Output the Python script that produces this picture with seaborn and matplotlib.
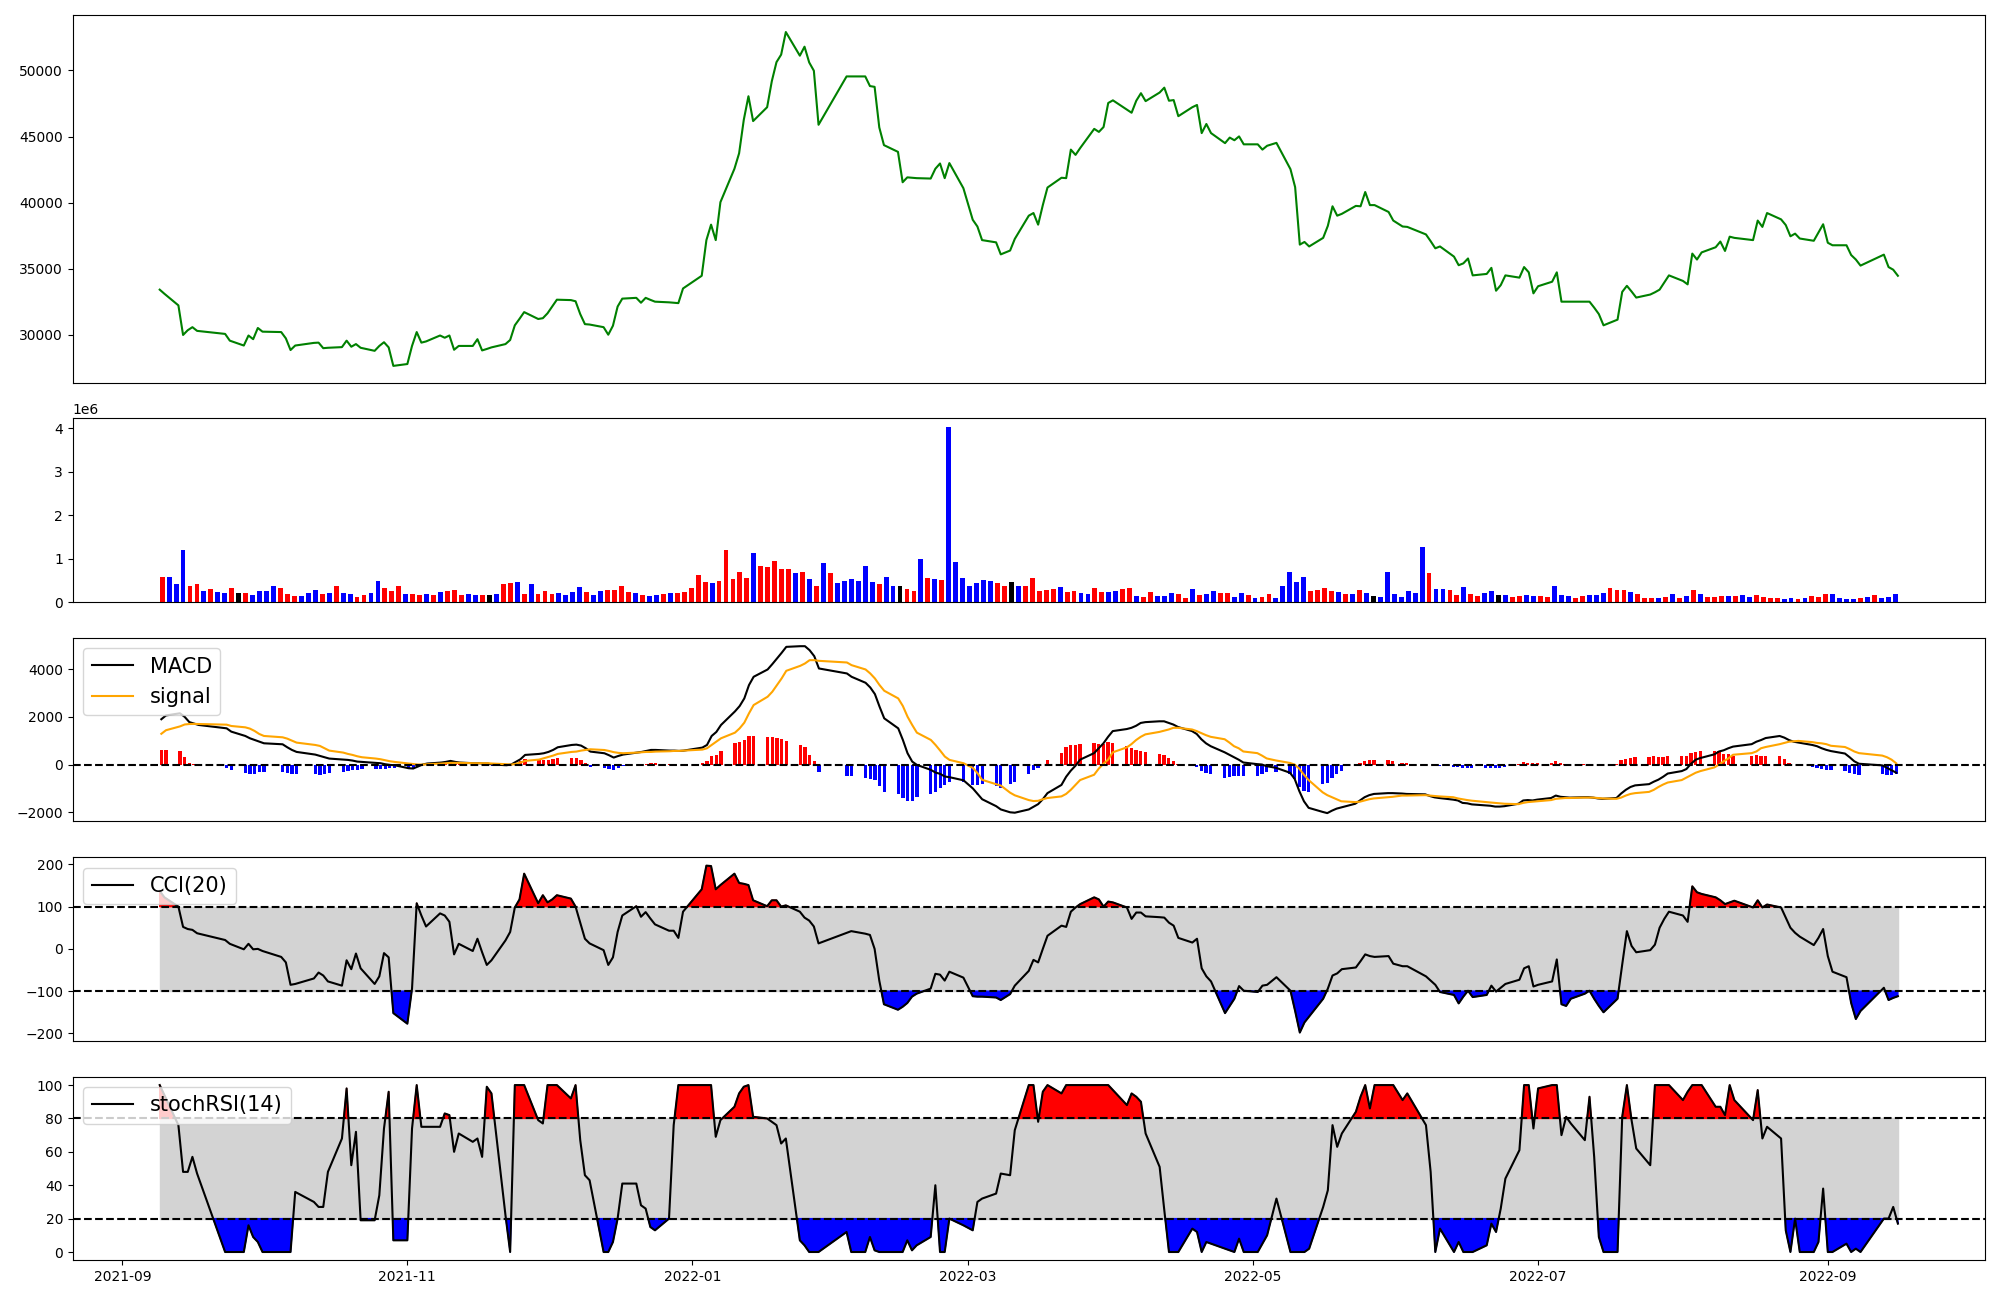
import numpy as np
import pandas as pd
import matplotlib
matplotlib.use("Agg")
import matplotlib.pyplot as plt
import seaborn as sns

# trading calendar (KRX holidays removed)
holidays = ["2021-09-20", "2021-09-21", "2021-09-22", "2021-10-04", "2021-10-11",
            "2021-12-31", "2022-01-31", "2022-02-01", "2022-02-02", "2022-03-01",
            "2022-03-09", "2022-05-05", "2022-06-01", "2022-06-06", "2022-08-15",
            "2022-09-09", "2022-09-12"]
dates = pd.bdate_range("2021-09-09", "2022-09-16")
dates = dates[~dates.isin(pd.to_datetime(holidays))]

close = [33410, 33100, 32220, 29980, 30340, 30570, 30290, 30060, 29550, 29180,
         29940, 29660, 30510, 30230, 30200, 29720, 28840, 29180, 29380, 29400,
         28980, 29010, 29060, 29550, 29090, 29290, 29010, 28780, 29150, 29430,
         29040, 27640, 27780, 29150, 30200, 29400, 29490, 29940, 29770, 29940,
         28860, 29150, 29150, 29660, 28810, 28920, 29040, 29290, 29600, 30710,
         31200, 31710, 31190, 31250, 31620, 32130, 32650, 32620, 32530, 31560,
         30800, 30770, 30570, 30000, 30680, 32130, 32730, 32790, 32420, 32790,
         32640, 32500, 32450, 32420, 32390, 33500, 34460, 37160, 38330, 37160,
         40030, 42560, 43730, 46260, 48050, 46170, 47220, 49190, 50630, 51200,
         52910, 51120, 51800, 50610, 49980, 45890, 49550, 49550, 49550, 48820,
         48760, 45690, 44350, 43840, 41540, 41910, 41880, 41850, 41820, 42560,
         42960, 41850, 42990, 41090, 38700, 38190, 37160, 36990, 36080, 36370,
         37250, 39010, 39210, 38330, 39810, 41140, 41880, 41850, 44010, 43610,
         44130, 45580, 45350, 45720, 47540, 47740, 47030, 46800, 47710, 48280,
         47680, 48330, 48700, 47710, 47760, 46540, 47220, 47390, 45260, 45950,
         45260, 44500, 44920, 44720, 45010, 44410, 44410, 44010, 44300, 44520,
         42530, 41170, 36820, 37020, 36680, 37330, 38240, 39720, 39010, 39150,
         39750, 39720, 40800, 39810, 39810, 39290, 38640, 38190, 38160, 37590,
         37080, 36540, 36680, 35910, 35260, 35400, 35770, 34490, 34600, 35060,
         33330, 33750, 34490, 34320, 35120, 34720, 33130, 33670, 34010, 34720,
         32500, 32500, 32500, 32500, 32500, 32050, 31560, 30710, 31140, 33240,
         33700, 33270, 32810, 33040, 33210, 33410, 33950, 34490, 34070, 33810,
         36140, 35690, 36230, 36620, 37050, 36340, 37420, 37330, 37160, 38640,
         38160, 39210, 38730, 38300, 37450, 37650, 37280, 37110, 37730, 38360,
         36960, 36770, 36770, 36030, 35690, 35230, 36060, 35120, 34920, 34460]

# volume in millions of shares
volume_m = [0.57, 0.57, 0.41, 1.20, 0.37, 0.41, 0.25, 0.30, 0.23, 0.20,
            0.32, 0.20, 0.20, 0.16, 0.25, 0.25, 0.38, 0.32, 0.18, 0.13,
            0.13, 0.20, 0.27, 0.18, 0.20, 0.37, 0.20, 0.18, 0.11, 0.16,
            0.20, 0.48, 0.32, 0.25, 0.37, 0.18, 0.18, 0.16, 0.18, 0.16,
            0.23, 0.25, 0.27, 0.16, 0.18, 0.16, 0.16, 0.16, 0.18, 0.41,
            0.43, 0.45, 0.18, 0.41, 0.18, 0.25, 0.18, 0.20, 0.16, 0.23,
            0.34, 0.23, 0.16, 0.25, 0.27, 0.27, 0.38, 0.23, 0.20, 0.16,
            0.13, 0.16, 0.18, 0.20, 0.20, 0.23, 0.32, 0.62, 0.45, 0.43,
            0.48, 1.20, 0.52, 0.69, 0.55, 1.13, 0.84, 0.81, 0.95, 0.77,
            0.75, 0.66, 0.70, 0.52, 0.38, 0.91, 0.68, 0.43, 0.48, 0.52,
            0.48, 0.84, 0.45, 0.41, 0.57, 0.38, 0.37, 0.30, 0.25, 0.99,
            0.55, 0.52, 0.50, 4.03, 0.93, 0.55, 0.38, 0.43, 0.50, 0.48,
            0.43, 0.38, 0.45, 0.38, 0.37, 0.55, 0.25, 0.27, 0.30, 0.34,
            0.23, 0.25, 0.20, 0.18, 0.32, 0.23, 0.23, 0.25, 0.30, 0.32,
            0.13, 0.11, 0.23, 0.13, 0.13, 0.20, 0.18, 0.09, 0.30, 0.16,
            0.18, 0.25, 0.20, 0.20, 0.11, 0.20, 0.16, 0.09, 0.11, 0.18,
            0.09, 0.38, 0.69, 0.45, 0.57, 0.25, 0.27, 0.32, 0.25, 0.23,
            0.18, 0.18, 0.27, 0.20, 0.13, 0.11, 0.69, 0.18, 0.11, 0.25,
            0.20, 1.26, 0.66, 0.30, 0.30, 0.27, 0.16, 0.34, 0.18, 0.13,
            0.20, 0.25, 0.16, 0.16, 0.11, 0.13, 0.16, 0.13, 0.13, 0.11,
            0.37, 0.16, 0.13, 0.09, 0.13, 0.16, 0.16, 0.20, 0.32, 0.27,
            0.27, 0.23, 0.18, 0.09, 0.09, 0.09, 0.11, 0.18, 0.09, 0.13,
            0.27, 0.18, 0.11, 0.11, 0.13, 0.13, 0.13, 0.16, 0.11, 0.16,
            0.11, 0.09, 0.09, 0.06, 0.09, 0.06, 0.09, 0.13, 0.11, 0.18,
            0.18, 0.09, 0.06, 0.06, 0.09, 0.11, 0.16, 0.09, 0.11, 0.18]

# candle direction per day: u = up, d = down, n = unchanged
candle = "".join([
    "uddduududd", "unudddduuu", "dddududduu", "dduuuduudu", "duuuddundu",
    "ududuuuddd", "dudduuuudu", "dduduuuuud", "uuuuuduuuu", "ududududdd",
    "ddduddnuud", "ududdddddd", "uunduuuuud", "uudduudduu", "duuddduudu",
    "dduudduduu", "ddddduuuud", "ududnddddd", "ddudduuduu", "ddnduudduu",
    "ddduuddduu", "uduuududud", "uduuududdu", "uuudduduuu", "ddddududdd",
])

macd = [1900, 2060, 2150, 2000, 1780, 1720, 1660, 1519, 1380, 1199,
        1101, 1032, 962, 892, 850, 725, 613, 530, 418, 362,
        307, 251, 209, 195, 167, 125, 112, 70, 56, 14,
        -14, -28, -153, -167, -84, 0, 42, 84, 112, 153,
        112, 84, 56, 56, 42, 42, 0, -28, 0, 112,
        223, 404, 446, 474, 530, 613, 725, 822, 836, 795,
        683, 544, 474, 390, 293, 362, 418, 502, 530, 572,
        613, 613, 585, 585, 572, 585, 711, 822, 1199, 1366,
        1659, 2230, 2453, 2774, 3332, 3680, 3987, 4210, 4447, 4684,
        4935, 4963, 4963, 4795, 4544, 4029, 3820, 3680, 3429, 3234,
        2955, 2426, 1938, 1519, 1032, 474, 125, -14, -223, -335,
        -390, -502, -530, -660, -1000, -1230, -1454, -1745, -1882, -2002,
        -2019, -1882, -1770, -1660, -1454, -1198, -855, -513, -257, -51,
        205, 479, 684, 890, 1163, 1403, 1489, 1540, 1625, 1745,
        1779, 1814, 1814, 1745, 1677, 1574, 1403, 1283, 1061, 890,
        770, 513, 411, 308, 205, 86, 17, 0, -68, -137,
        -342, -599, -1112, -1540, -1814, -1985, -2036, -1933, -1848, -1797,
        -1643, -1506, -1369, -1283, -1232, -1198, -1198, -1215, -1232, -1249,
        -1320, -1375, -1403, -1471, -1506, -1608, -1625, -1670, -1711, -1728,
        -1762, -1762, -1745, -1643, -1506, -1489, -1506, -1471, -1403, -1300,
        -1352, -1369, -1386, -1369, -1369, -1386, -1420, -1437, -1403, -1215,
        -1061, -941, -873, -821, -719, -633, -513, -376, -274, -188,
        34, 205, 274, 428, 548, 599, 684, 753, 855, 958,
        1027, 1112, 1198, 1129, 1027, 958, 924, 821, 770, 684,
        616, 565, 462, 308, 137, 34, -34, -137, -240, -342]

signal = [1290, 1440, 1600, 1680, 1700, 1705, 1700, 1673, 1617, 1561,
          1506, 1408, 1282, 1199, 1143, 1087, 1004, 920, 822, 781,
          683, 585, 502, 446, 404, 348, 307, 251, 223, 181,
          139, 112, 42, 14, 0, 0, 14, 42, 56, 70,
          70, 70, 56, 56, 56, 56, 42, 14, 0, 28,
          84, 153, 209, 265, 321, 376, 446, 530, 544, 585,
          613, 641, 610, 570, 520, 490, 475, 502, 516, 530,
          530, 544, 558, 572, 572, 585, 627, 683, 822, 962,
          1101, 1338, 1519, 1756, 2147, 2495, 2844, 3053, 3332, 3611,
          3931, 4140, 4238, 4377, 4377, 4349, 4280, 4168, 3987, 3820,
          3611, 3332, 3095, 2774, 2453, 2007, 1659, 1338, 1032, 822,
          585, 335, 195, 56, -139, -362, -640, -825, -880, -1180,
          -1290, -1490, -1530, -1520, -1454, -1403, -1335, -1232, -1061, -855,
          -650, -428, -171, 34, 205, 513, 719, 855, 1027, 1163,
          1266, 1369, 1420, 1471, 1540, 1540, 1471, 1403, 1317, 1232,
          1163, 1061, 924, 770, 684, 548, 479, 376, 257, 171,
          68, 0, -171, -428, -650, -1163, -1283, -1369, -1454, -1540,
          -1574, -1557, -1506, -1454, -1420, -1369, -1352, -1300, -1300, -1283,
          -1300, -1317, -1335, -1369, -1420, -1454, -1489, -1515, -1574, -1591,
          -1608, -1625, -1643, -1660, -1608, -1574, -1557, -1540, -1489, -1437,
          -1420, -1403, -1403, -1386, -1386, -1386, -1403, -1420, -1437, -1386,
          -1300, -1232, -1198, -1146, -1061, -941, -838, -753, -650, -548,
          -445, -342, -274, -120, 0, 137, 257, 411, 479, 548,
          684, 736, 855, 907, 958, 975, 992, 941, 907, 890,
          855, 787, 736, 650, 548, 479, 376, 308, 205, 51]

cci = [137, 122, 100, 52, 47, 45, 37, 21, 12, -1,
       12, -1, 0, -5, -19, -32, -85, -83, -70, -56,
       -63, -77, -87, -27, -48, -11, -46, -83, -65, -10,
       -20, -152, -177, -94, 108, 79, 53, 84, 79, 64,
       -13, 12, -5, 24, -8, -38, -27, 20, 40, 98,
       117, 178, 108, 127, 110, 117, 127, 119, 100, 62,
       24, 13, -3, -38, -20, 40, 79, 101, 76, 87,
       72, 58, 43, 43, 26, 88, 141, 197, 196, 141,
       151, 178, 156, 154, 151, 115, 101, 115, 115, 100,
       103, 88, 74, 67, 53, 13, 38, 42, 36, 33,
       0, -75, -131, -144, -137, -128, -113, -106, -94, -59,
       -61, -75, -54, -68, -112, -113, -113, -115, -121, -107,
       -87, -52, -26, -32, 0, 31, 55, 52, 88, 98,
       106, 122, 117, 100, 112, 110, 98, 71, 86, 86,
       77, 75, 74, 62, 55, 26, 15, 24, -46, -65,
       -77, -152, -135, -118, -88, -99, -102, -87, -85, -67,
       -99, -147, -198, -174, -160, -118, -94, -63, -58, -48,
       -44, -29, -13, -17, -19, -17, -35, -41, -41, -65,
       -75, -85, -102, -109, -129, -113, -99, -114, -109, -87,
       -101, -92, -83, -73, -46, -41, -89, -85, -77, -25,
       -131, -135, -118, -106, -99, -118, -135, -150, -118, -37,
       42, 7, -8, -3, 10, 50, 71, 88, 79, 64,
       148, 134, 130, 122, 115, 106, 110, 114, 98, 115,
       98, 105, 98, 74, 50, 38, 29, 9, 26, 47,
       -17, -54, -67, -128, -166, -147, -92, -121, -116, -112]

stoch_rsi = [100, 94, 76, 48, 48, 57, 47, 0, 0, 0,
             16, 9, 6, 0, 0, 0, 0, 36, 30, 27,
             27, 48, 68, 98, 52, 72, 19, 19, 34, 74,
             96, 7, 7, 74, 100, 75, 75, 75, 83, 82,
             60, 71, 66, 68, 57, 99, 95, 22, 0, 100,
             100, 100, 79, 77, 100, 100, 100, 92, 100, 67,
             46, 43, 0, 0, 6, 20, 41, 41, 28, 26,
             15, 13, 20, 76, 100, 100, 100, 100, 100, 69,
             79, 87, 95, 99, 100, 81, 80, 78, 76, 65,
             68, 7, 4, 0, 0, 0, 12, 0, 0, 9,
             1, 0, 0, 0, 0, 7, 1, 4, 9, 40,
             0, 0, 20, 16, 13, 30, 32, 35, 47, 46,
             73, 100, 100, 78, 96, 100, 95, 100, 100, 100,
             100, 100, 100, 100, 100, 97, 88, 95, 93, 90,
             71, 51, 25, 0, 0, 0, 14, 12, 0, 6,
             5, 2, 1, 0, 8, 0, 0, 5, 10, 32,
             0, 0, 0, 0, 2, 27, 37, 76, 63, 71,
             84, 93, 100, 86, 100, 100, 100, 91, 95, 76,
             48, 0, 14, 0, 6, 0, 0, 0, 4, 17,
             12, 26, 44, 61, 100, 100, 74, 98, 100, 100,
             70, 81, 77, 67, 93, 57, 9, 0, 0, 81,
             100, 79, 62, 52, 100, 100, 100, 100, 91, 96,
             100, 100, 100, 87, 87, 82, 100, 91, 79, 97,
             68, 75, 68, 13, 0, 20, 0, 0, 6, 38,
             0, 0, 5, 0, 2, 0, 20, 20, 27, 17]

n = len(dates)
close = np.array(close, dtype=float)
volume = np.array(volume_m) * 1e6
macd = np.array(macd, dtype=float)
signal = np.array(signal, dtype=float)
hist = macd - signal
cci = np.array(cci, dtype=float)
stoch_rsi = np.array(stoch_rsi, dtype=float)

candle_colors = {"u": "red", "d": "blue", "n": "black"}
vol_colors = [candle_colors[c] for c in candle]
hist_colors = ["red" if h > 0 else "blue" for h in hist]

fig = plt.figure(figsize=(20, 13), dpi=100)
gs = fig.add_gridspec(5, 1, height_ratios=[2, 1, 1, 1, 1], left=0.0364, right=0.9924,
                      top=0.9882, bottom=0.0305, hspace=0.1626)
ax_price = fig.add_subplot(gs[0])
ax_vol = fig.add_subplot(gs[1])
ax_macd = fig.add_subplot(gs[2])
ax_cci = fig.add_subplot(gs[3])
ax_stoch = fig.add_subplot(gs[4])

# price
sns.lineplot(x=dates, y=close, color="green", ax=ax_price)

# volume, drawn on the bar index
ax_vol.bar(np.arange(n), volume, width=0.7, color=vol_colors)

# MACD
ax_macd.bar(dates, hist, width=0.7, color=hist_colors)
sns.lineplot(x=dates, y=macd, color="black", label="MACD", ax=ax_macd)
sns.lineplot(x=dates, y=signal, color="orange", label="signal", ax=ax_macd)
ax_macd.axhline(0, color="black", linestyle="--")
ax_macd.legend(loc="upper left", fontsize=15)

# CCI
ax_cci.fill_between(dates, -100, 100, color="lightgray")
ax_cci.fill_between(dates, cci, 100, where=cci >= 100, interpolate=True, color="red")
ax_cci.fill_between(dates, cci, -100, where=cci <= -100, interpolate=True, color="blue")
sns.lineplot(x=dates, y=cci, color="black", label="CCI(20)", ax=ax_cci)
ax_cci.axhline(100, color="black", linestyle="--")
ax_cci.axhline(-100, color="black", linestyle="--")
ax_cci.legend(loc="upper left", fontsize=15)

# stochastic RSI
ax_stoch.fill_between(dates, 20, 80, color="lightgray")
ax_stoch.fill_between(dates, stoch_rsi, 80, where=stoch_rsi >= 80, interpolate=True, color="red")
ax_stoch.fill_between(dates, stoch_rsi, 20, where=stoch_rsi <= 20, interpolate=True, color="blue")
sns.lineplot(x=dates, y=stoch_rsi, color="black", label="stochRSI(14)", ax=ax_stoch)
ax_stoch.axhline(80, color="black", linestyle="--")
ax_stoch.axhline(20, color="black", linestyle="--")
ax_stoch.legend(loc="upper left", fontsize=15)

for ax in [ax_price, ax_vol, ax_macd, ax_cci, ax_stoch]:
    ax.set_xlabel("")
    ax.set_ylabel("")
for ax in [ax_price, ax_vol, ax_macd, ax_cci]:
    ax.set_xticks([])

fig.savefig("out.png", dpi=100)
